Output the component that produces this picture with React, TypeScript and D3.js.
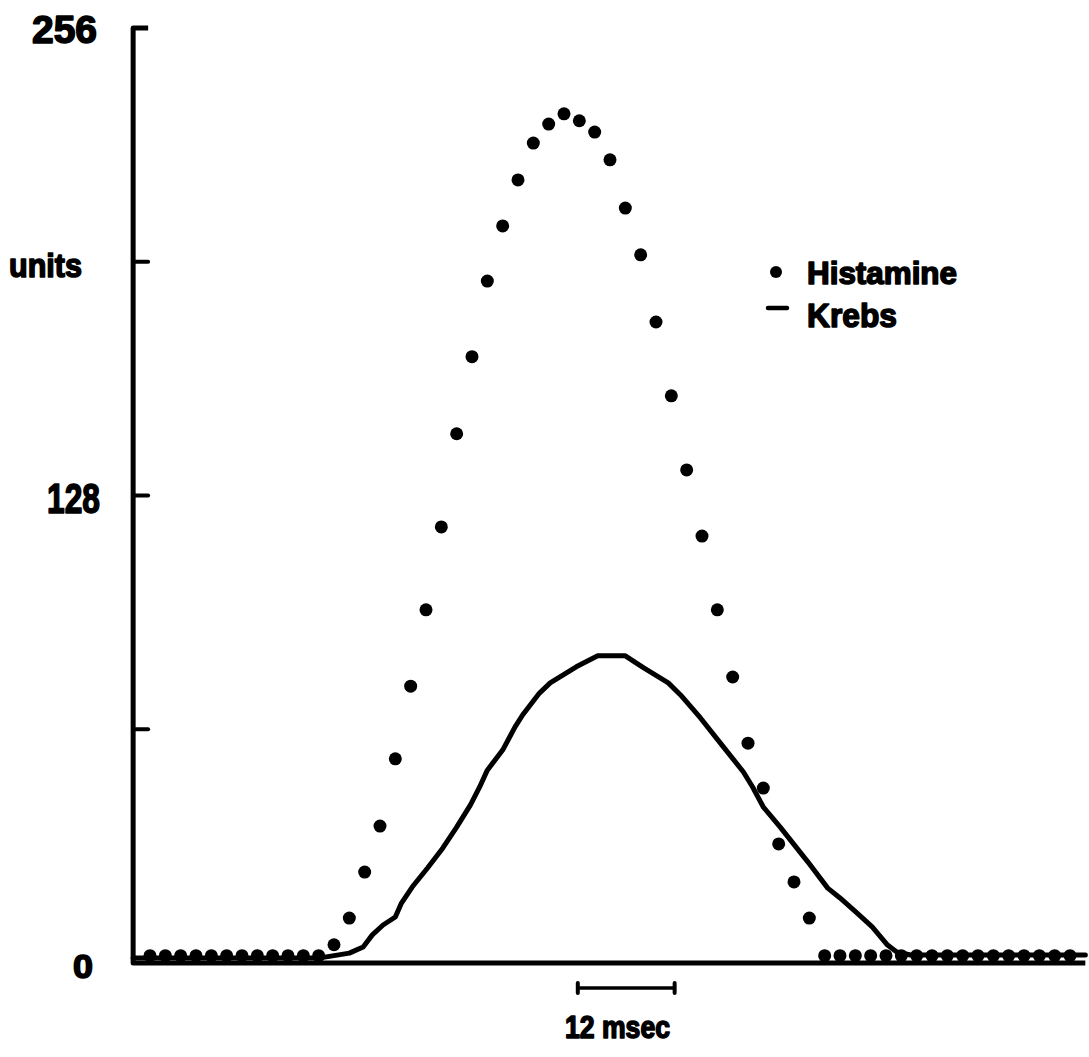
import React from "react";
import * as d3 from "d3";

// histamine samples, one per sampling step (index 0..60)
const histamine = [
  2, 2, 2, 2, 2, 2, 2, 2, 2, 2, 2, 2,
  5, 12.3, 24.9, 37.5, 55.9, 75.8, 96.7, 119.4, 144.9, 166, 186.7, 201.8,
  214.4, 224.5, 229.7, 232.5, 230.6, 227.5, 219.9, 206.7, 193.9, 175.5,
  155.3, 135, 116.9, 96.7, 78.3, 60.2, 47.9, 32.6, 22.2, 12.3,
  2, 2, 2, 2, 2, 2, 2, 2, 2, 2, 2, 2, 2, 2, 2, 2, 2,
];

// krebs trace: sample position and value
const krebsT = [
  -1.1, 11.1, 13.0, 13.9, 14.5, 15.2, 16.0, 16.4, 17.1, 18.1, 19.1, 20.0,
  20.9, 21.5, 22.0, 23.0, 23.8, 24.3, 25.4, 26.1, 27.8, 29.2, 31.0, 32.2,
  33.8, 34.6, 35.9, 37.2, 38.7, 39.3, 40.0, 41.1, 42.9, 44.2, 45.0, 46.1,
  47.1, 48.1, 48.7, 49.6, 61.0,
];
const krebsV = [
  1.4, 1.4, 2.7, 4.4, 7.7, 10.4, 12.6, 16.4, 20.8, 26, 31.5, 37.2,
  43.3, 48.2, 52.8, 58.3, 64.6, 67.9, 73.9, 76.7, 81.1, 84.1, 84.1, 80.8,
  76.7, 73.4, 67.1, 60.2, 52.3, 48.2, 42.7, 37.2, 27.7, 20.5, 17.8, 13.7,
  9.9, 4.9, 3.0, 2.2, 2.2,
];

const yTicks = [0, 64, 128, 192, 256];
const yLabels = [
  { v: 256, text: "256" },
  { v: 192, text: "units" },
  { v: 128, text: "128" },
  { v: 0, text: "0" },
];
const seriesNames = ["Histamine", "Krebs"];

const MS_PER_SAMPLE = 1.9;
const SCALE_BAR_MS = 12;
const SCALE_BAR_START = 27.9;

const W = 1089;
const H = 1057;
const font = "'Liberation Sans', Arial, sans-serif";

// heavy hand-lettered look
const inkText = {
  fontFamily: font,
  fontWeight: "bold" as const,
  stroke: "#000",
  strokeWidth: 1.6,
  strokeLinejoin: "round" as const,
  lengthAdjust: "spacingAndGlyphs",
};

export default function App() {
  const x = d3.scaleLinear().domain([0, 60]).range([150, 1070]);
  const y = d3.scaleLinear().domain([0, 256]).range([963, 28]);

  const axisLeft = x(-1.1);
  const axisRight = x(61);

  const krebsLine = d3
    .line<number>()
    .x((_, i) => x(krebsT[i]))
    .y((v) => y(v));

  const barX0 = x(SCALE_BAR_START);
  const barX1 = x(SCALE_BAR_START + SCALE_BAR_MS / MS_PER_SAMPLE);
  const barY = 988;

  // label placement (left edge, baseline offset, fitted width, size)
  const labelBox: Record<string, { x: number; dy: number; w: number; size: number }> = {
    "256": { x: 32, dy: 15, w: 65, size: 39 },
    units: { x: 9, dy: 15, w: 73, size: 34 },
    "128": { x: 47, dy: 17, w: 53, size: 42 },
    "0": { x: 73, dy: 15, w: 20, size: 34 },
  };

  return (
    <svg
      width={W}
      height={H}
      style={{ position: "absolute", left: 0, top: 0, background: "#fff" }}
    >
      {/* y axis with the top corner tick, x axis */}
      <path
        d={`M${axisLeft + 15},${y(256)} L${axisLeft},${y(256)} L${axisLeft},${y(0)} L${axisRight},${y(0)}`}
        fill="none"
        stroke="#000"
        strokeWidth={5}
        strokeLinejoin="round"
      />
      {yTicks
        .filter((t) => t > 0 && t < 256)
        .map((t) => (
          <line
            key={t}
            x1={axisLeft}
            x2={axisLeft + 15}
            y1={y(t)}
            y2={y(t)}
            stroke="#000"
            strokeWidth={4}
            strokeLinecap="round"
          />
        ))}
      {yLabels.map((l) => {
        const b = labelBox[l.text];
        return (
          <text
            key={l.text}
            x={b.x}
            y={y(l.v) + b.dy}
            fontSize={b.size}
            textLength={b.w}
            {...inkText}
          >
            {l.text}
          </text>
        );
      })}

      {/* krebs */}
      <path
        d={krebsLine(krebsV) || ""}
        fill="none"
        stroke="#000"
        strokeWidth={5}
        strokeLinejoin="round"
        strokeLinecap="round"
      />

      {/* histamine */}
      {histamine.map((v, i) => (
        <circle key={i} cx={x(i)} cy={y(v)} r={6.5} fill="#000" />
      ))}

      {/* legend */}
      <circle cx={776} cy={272} r={6} fill="#000" />
      <line x1={768} x2={787} y1={308} y2={308} stroke="#000" strokeWidth={4.5} strokeLinecap="round" />
      <text x={807} y={284} fontSize={32} textLength={150} {...inkText}>
        {seriesNames[0]}
      </text>
      <text x={807} y={327} fontSize={34} textLength={90} {...inkText}>
        {seriesNames[1]}
      </text>

      {/* time scale bar */}
      <line x1={barX0} x2={barX1} y1={barY} y2={barY} stroke="#000" strokeWidth={3.5} />
      <line x1={barX0} x2={barX0} y1={barY - 5} y2={barY + 5} stroke="#000" strokeWidth={4} strokeLinecap="round" />
      <line x1={barX1} x2={barX1} y1={barY - 5} y2={barY + 5} stroke="#000" strokeWidth={4} strokeLinecap="round" />
      <text x={565} y={1038} fontSize={31} textLength={105} {...inkText}>
        {`${SCALE_BAR_MS} msec`}
      </text>
    </svg>
  );
}
